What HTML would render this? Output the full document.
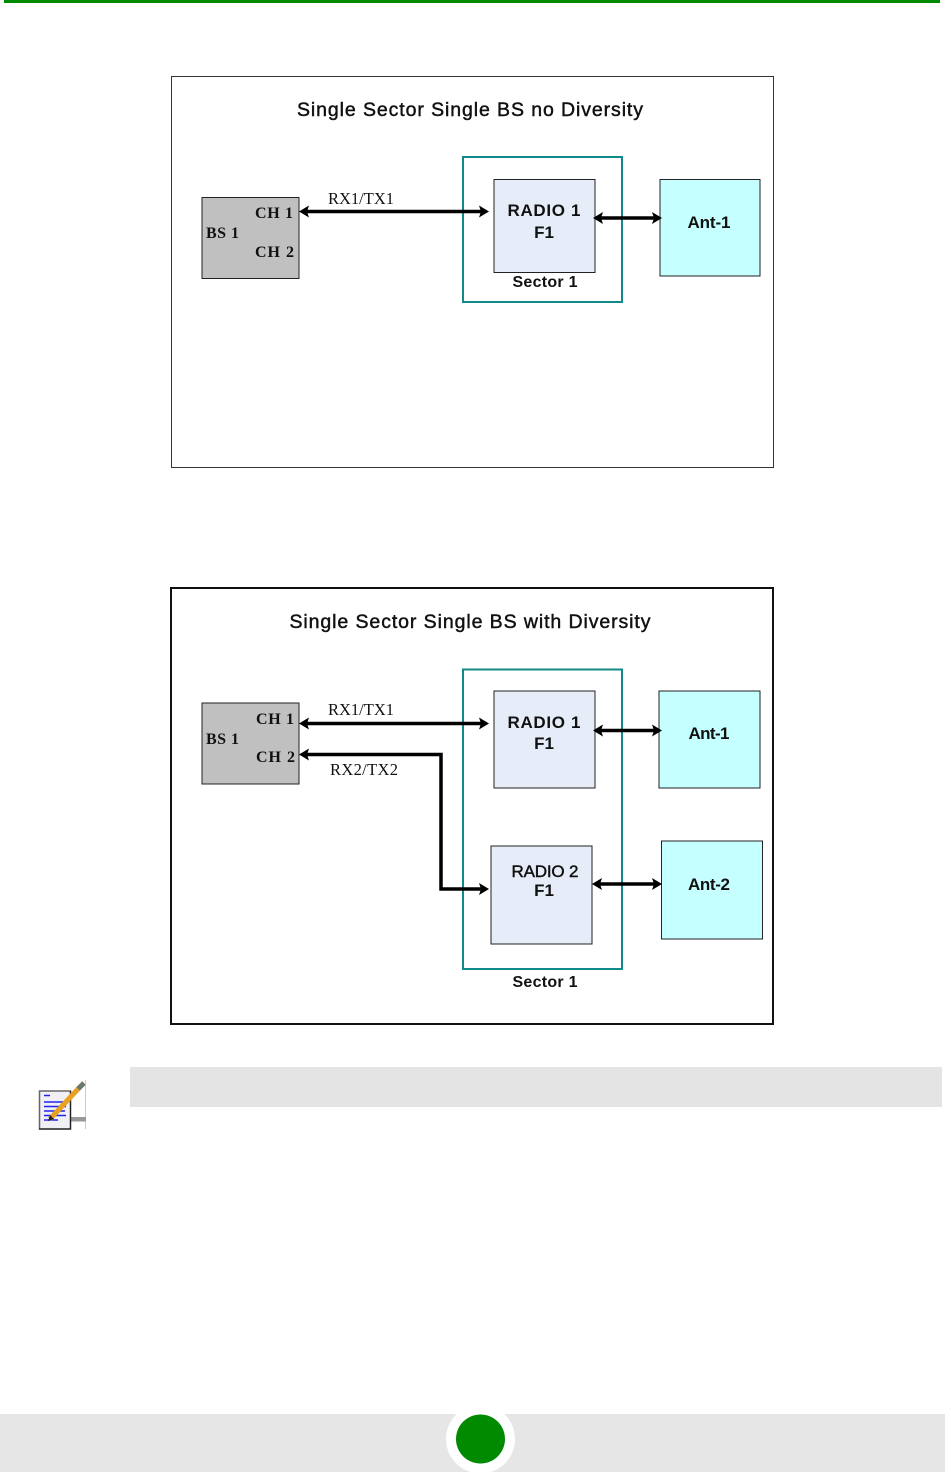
<!DOCTYPE html>
<html><head><meta charset="utf-8"><style>
html,body{margin:0;padding:0;background:#fff}
svg{display:block}
text{font-family:"Liberation Sans",sans-serif;fill:#111}
.b{font-weight:bold}
.s{font-family:"Liberation Serif",serif}
.d{filter:blur(.35px)}
.m{stroke:#111;stroke-width:.45}
</style></head><body>
<svg width="945" height="1472" viewBox="0 0 945 1472" xmlns="http://www.w3.org/2000/svg">
<defs>
<g id="L"><polygon points="0,0 10,-6 8,0 10,6" fill="#000"/></g>
<g id="R"><polygon points="0,0 -10,-6 -8,0 -10,6" fill="#000"/></g>
</defs>
<rect x="4" y="0" width="936" height="3" fill="#008a00"/>

<!-- Diagram 1 -->
<g class="d">
<rect x="171.5" y="76.5" width="602" height="391" fill="#fff" stroke="#333" stroke-width="1"/>
<text class="m" x="470" y="116" text-anchor="middle" font-size="19.5" textLength="346" lengthAdjust="spacing">Single Sector Single BS no Diversity</text>
<rect x="463" y="157" width="159" height="145" fill="none" stroke="#108a88" stroke-width="2"/>
<rect x="202" y="197.500" width="97" height="81" fill="#c0c0c0" stroke="#222" stroke-width="1"/>
<rect x="494" y="179.500" width="101" height="93" fill="#e6edf8" stroke="#222" stroke-width="1"/>
<rect x="660" y="179.500" width="100" height="96.500" fill="#c6ffff" stroke="#222" stroke-width="1"/>
<text class="s b" x="255" y="218" font-size="16" textLength="38">CH 1</text>
<text class="s b" x="255" y="257" font-size="16" textLength="39">CH 2</text>
<text class="s b" x="206" y="238" font-size="16" textLength="33">BS 1</text>
<text class="s" x="328" y="204" font-size="16.500" textLength="66">RX1/TX1</text>
<text class="b" x="544" y="216" text-anchor="middle" font-size="17" textLength="73">RADIO 1</text>
<text class="b" x="544" y="238" text-anchor="middle" font-size="17">F1</text>
<text class="b" x="709" y="228" text-anchor="middle" font-size="17" textLength="43">Ant-1</text>
<text class="b" x="545" y="287" text-anchor="middle" font-size="16" textLength="65">Sector 1</text>
<line x1="305" y1="211.500" x2="483" y2="211.500" stroke="#000" stroke-width="3.500"/>
<use href="#L" x="299" y="211.500"/><use href="#R" x="489" y="211.500"/>
<line x1="600" y1="218" x2="656" y2="218" stroke="#000" stroke-width="3.500"/>
<use href="#L" x="593" y="218"/><use href="#R" x="662" y="218"/>
</g>

<!-- Diagram 2 -->
<g class="d">
<rect x="171" y="588" width="602" height="436" fill="#fff" stroke="#111" stroke-width="2"/>
<text class="m" x="470" y="628" text-anchor="middle" font-size="19.500" textLength="361" lengthAdjust="spacing">Single Sector Single BS with Diversity</text>
<rect x="463" y="669.500" width="159" height="299.500" fill="none" stroke="#108a88" stroke-width="2"/>
<rect x="202" y="703" width="97" height="81" fill="#c0c0c0" stroke="#222" stroke-width="1"/>
<rect x="494" y="691" width="101" height="97" fill="#e6edf8" stroke="#222" stroke-width="1"/>
<rect x="491" y="846" width="101" height="98" fill="#e6edf8" stroke="#222" stroke-width="1"/>
<rect x="659" y="691" width="101" height="97" fill="#c6ffff" stroke="#222" stroke-width="1"/>
<rect x="661.500" y="841" width="101" height="98" fill="#c6ffff" stroke="#222" stroke-width="1"/>
<text class="s b" x="256" y="724" font-size="16" textLength="38">CH 1</text>
<text class="s b" x="256" y="762" font-size="16" textLength="39">CH 2</text>
<text class="s b" x="206" y="744" font-size="16" textLength="33">BS 1</text>
<text class="s" x="328" y="715" font-size="16.500" textLength="66">RX1/TX1</text>
<text class="s" x="330" y="775" font-size="16.500" textLength="68">RX2/TX2</text>
<text class="b" x="544" y="728" text-anchor="middle" font-size="17" textLength="73">RADIO 1</text>
<text class="b" x="544" y="749" text-anchor="middle" font-size="17">F1</text>
<text class="m" x="545" y="877" text-anchor="middle" font-size="17" textLength="67">RADIO 2</text>
<text class="b" x="544" y="896" text-anchor="middle" font-size="17">F1</text>
<text class="b" x="709" y="739" text-anchor="middle" font-size="17" textLength="41">Ant-1</text>
<text class="b" x="709" y="890" text-anchor="middle" font-size="17" textLength="42">Ant-2</text>
<text class="b" x="545" y="987" text-anchor="middle" font-size="16" textLength="65">Sector 1</text>
<line x1="305" y1="723.500" x2="483" y2="723.500" stroke="#000" stroke-width="3.500"/>
<use href="#L" x="299" y="723.500"/><use href="#R" x="489" y="723.500"/>
<polyline points="305,754.500 441,754.500 441,889 483,889" fill="none" stroke="#000" stroke-width="3.500"/>
<use href="#L" x="299" y="754.500"/><use href="#R" x="489" y="889"/>
<line x1="600" y1="730.500" x2="656" y2="730.500" stroke="#000" stroke-width="3.500"/>
<use href="#L" x="593" y="730.500"/><use href="#R" x="662" y="730.500"/>
<line x1="600" y1="884" x2="656" y2="884" stroke="#000" stroke-width="3.500"/>
<use href="#L" x="592" y="884"/><use href="#R" x="662" y="884"/>
</g>

<!-- Note -->
<rect x="130" y="1067" width="812" height="40" fill="#e4e4e4"/>
<rect x="85" y="1080" width="1" height="49" fill="#ccc"/>
<rect x="70" y="1117" width="16" height="4.500" fill="#999"/>
<rect x="39.500" y="1091" width="31" height="38" fill="#f0f0f6" stroke="#666" stroke-width="1.500"/>
<path d="M39 1129H70.500V1091" fill="none" stroke="#222" stroke-width="1.200"/>
<path d="M44 1095.500h6M44 1102h20M44 1106.500h22M44 1111h21M44 1115.500h22M44 1120h14" stroke="#2222ee" stroke-width="1.500" fill="none"/>
<line x1="50" y1="1119" x2="78" y2="1089" stroke="#e8a020" stroke-width="5"/>
<line x1="78" y1="1089" x2="84" y2="1083" stroke="#6a7a6a" stroke-width="5"/>
<polygon points="48,1121 50,1115 54,1119" fill="#222"/>

<!-- Footer -->
<rect x="0" y="1414" width="945" height="58" fill="#e6e6e6"/>
<circle cx="480.500" cy="1439" r="34.500" fill="#fff"/>
<circle cx="480.500" cy="1439" r="24.500" fill="#008a00"/>
</svg>
</body></html>
